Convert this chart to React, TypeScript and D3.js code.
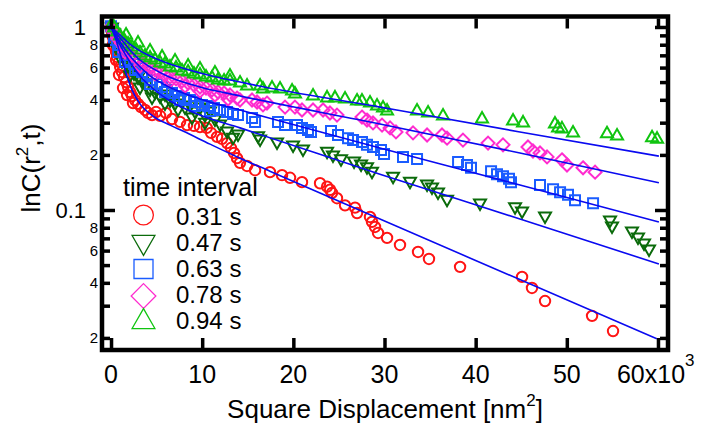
import React, { useEffect, useRef } from "react";
import * as d3 from "d3";

// x in 10^3 nm^2, y = C(r^2,t)
const pts031 = [
  [0.0, 1.0], [0.1, 0.939], [0.2, 0.882], [0.3, 0.828], [0.4, 0.777], [0.55, 0.73], [0.66, 0.686],
  [0.88, 0.644], [1.0, 0.605], [1.2, 0.568], [1.43, 0.533], [1.65, 0.5], [1.87, 0.47], [2.1, 0.441],
  [2.3, 0.42], [2.63, 0.399], [2.96, 0.38], [3.29, 0.365], [3.73, 0.352], [4.06, 0.339], [4.5, 0.33],
  [4.94, 0.343], [5.38, 0.327], [6.03, 0.339], [6.69, 0.314], [7.57, 0.303], [8.34, 0.291], [9.1, 0.288],
  [9.76, 0.284], [10.5, 0.281], [10.97, 0.264], [11.63, 0.251], [12.18, 0.245], [12.73, 0.232],
  [13.16, 0.218], [13.49, 0.205], [13.82, 0.192], [14.15, 0.181], [14.92, 0.174], [15.8, 0.165],
  [0.2, 0.797], [0.55, 0.66], [0.88, 0.547], [1.32, 0.464], [1.76, 0.425], [2.41, 0.384],
  [17.44, 0.161], [18.76, 0.155], [19.64, 0.15], [20.95, 0.142], [22.93, 0.14], [23.7, 0.134],
  [24.03, 0.129], [24.24, 0.124], [24.79, 0.116], [25.67, 0.106], [26.77, 0.103], [26.99, 0.0963],
  [28.41, 0.0916], [28.63, 0.0861], [28.96, 0.0808], [29.29, 0.0749], [30.28, 0.0704], [31.7, 0.0644],
  [33.68, 0.059], [34.88, 0.054], [38.29, 0.0489], [45.09, 0.0431], [46.18, 0.0375], [47.61, 0.0318],
  [52.77, 0.0264], [55.07, 0.0218],
];

const pts047 = [
  [0.1, 0.987], [0.33, 0.916], [0.55, 0.849], [0.77, 0.787], [0.99, 0.739], [1.21, 0.695], [1.54, 0.652],
  [1.87, 0.612], [2.19, 0.582], [2.52, 0.554], [2.96, 0.526], [3.4, 0.5], [3.84, 0.476], [4.28, 0.453],
  [4.83, 0.436], [5.38, 0.415], [5.92, 0.425], [6.47, 0.394], [7.02, 0.38], [7.57, 0.399], [8.12, 0.361],
  [8.67, 0.37], [9.21, 0.343], [9.76, 0.361], [10.3, 0.327], [10.86, 0.343], [11.4, 0.31], [11.96, 0.291],
  [12.73, 0.267], [13.38, 0.247], [13.93, 0.257],
  [0.55, 0.768], [1.21, 0.644], [2.08, 0.54], [3.18, 0.464], [4.5, 0.409], [5.92, 0.38], [7.35, 0.352],
  [8.89, 0.318], [10.31, 0.298],
  [16.13, 0.251], [16.35, 0.241], [18.21, 0.232], [19.97, 0.224], [21.06, 0.213], [23.7, 0.207],
  [24.35, 0.197], [25.23, 0.188], [26.66, 0.183], [27.43, 0.176], [28.08, 0.17], [28.63, 0.161],
  [30.94, 0.151], [32.8, 0.142], [34.67, 0.137], [35.21, 0.132], [35.87, 0.124], [36.86, 0.113],
  [40.48, 0.108], [44.32, 0.103], [45.09, 0.0975], [47.61, 0.0916], [54.74, 0.0871], [54.96, 0.0808],
  [57.15, 0.0759], [57.81, 0.0704], [58.47, 0.0652], [59.02, 0.0605],
];

const pts063 = [
  [0.0, 1.01], [0.22, 0.963], [0.44, 0.904], [0.66, 0.849], [0.99, 0.797], [1.32, 0.749], [1.65, 0.703],
  [2.08, 0.66], [2.52, 0.628], [2.96, 0.597], [3.4, 0.568], [3.95, 0.54], [4.5, 0.513], [5.05, 0.488],
  [5.6, 0.47], [6.14, 0.453], [6.69, 0.436], [7.35, 0.42], [8.01, 0.409], [8.67, 0.399], [9.32, 0.389],
  [9.98, 0.375], [10.64, 0.37], [11.3, 0.361], [11.96, 0.352], [12.73, 0.343], [13.38, 0.335], [13.93, 0.33],
  [0.33, 0.849], [0.77, 0.73], [1.54, 0.644], [2.63, 0.582], [4.28, 0.488], [5.92, 0.441], [7.57, 0.399],
  [9.21, 0.37], [10.86, 0.348],
  [15.47, 0.318], [15.8, 0.303], [18.32, 0.303], [19.09, 0.291], [20.4, 0.291], [20.95, 0.281],
  [21.61, 0.274], [21.94, 0.267], [24.13, 0.27], [24.9, 0.257], [26.0, 0.247], [26.55, 0.241],
  [27.53, 0.235], [28.08, 0.227], [28.74, 0.221], [29.62, 0.213], [29.95, 0.202], [32.03, 0.195],
  [33.57, 0.19], [38.07, 0.183], [39.05, 0.176], [39.49, 0.17], [41.69, 0.163], [42.34, 0.157],
  [43.0, 0.153], [43.66, 0.148], [43.88, 0.142], [47.06, 0.137], [48.49, 0.13], [49.26, 0.125],
  [50.13, 0.121], [50.9, 0.113], [52.88, 0.109],
];

const pts078 = [
  [0.0, 1.0], [0.22, 0.951], [0.44, 0.904], [0.77, 0.86], [1.1, 0.818], [1.43, 0.777], [1.87, 0.739],
  [2.3, 0.703], [2.74, 0.677], [3.18, 0.652], [3.73, 0.628], [4.28, 0.605], [4.83, 0.582], [5.38, 0.568],
  [5.92, 0.547], [6.47, 0.533], [7.13, 0.52], [7.79, 0.507], [8.45, 0.494], [9.1, 0.482], [9.76, 0.47],
  [10.42, 0.464], [11.08, 0.453], [11.74, 0.441], [12.4, 0.436], [13.05, 0.425], [13.82, 0.409],
  [1.54, 0.73], [3.18, 0.612], [4.83, 0.554], [6.47, 0.507], [8.12, 0.476], [9.76, 0.447], [11.4, 0.425],
  [12.84, 0.404],
  [14.15, 0.399], [15.47, 0.399], [16.02, 0.389], [16.67, 0.375], [17.11, 0.384], [19.09, 0.365],
  [20.18, 0.365], [20.95, 0.352], [22.16, 0.352], [23.26, 0.352], [24.02, 0.339], [24.79, 0.33],
  [27.53, 0.322], [28.08, 0.31], [28.74, 0.299], [29.73, 0.291], [30.61, 0.281], [31.26, 0.267],
  [33.13, 0.264], [34.67, 0.257], [36.31, 0.257], [36.86, 0.247], [38.61, 0.241], [41.36, 0.232],
  [43.0, 0.227], [45.74, 0.221], [46.29, 0.21], [47.06, 0.205], [47.83, 0.195], [49.47, 0.188],
  [50.02, 0.176], [51.78, 0.17], [53.1, 0.161],
];

const pts094 = [
  [0.1, 1.05], [0.33, 1.0], [0.66, 0.951], [0.99, 0.904], [1.43, 0.86], [1.87, 0.818], [2.3, 0.787],
  [2.74, 0.758], [3.18, 0.73], [3.73, 0.703], [4.28, 0.686], [4.83, 0.668], [5.38, 0.644], [5.92, 0.636],
  [6.47, 0.612], [7.13, 0.605], [7.79, 0.582], [8.45, 0.575], [9.1, 0.561], [9.76, 0.554], [10.42, 0.54],
  [11.08, 0.533], [11.74, 0.52], [12.4, 0.513], [13.05, 0.513],
  [1.65, 0.916], [2.96, 0.828], [4.28, 0.749], [5.6, 0.694], [7.02, 0.66], [8.45, 0.62], [9.76, 0.597],
  [11.4, 0.568], [13.05, 0.547],
  [14.15, 0.5], [14.92, 0.482], [16.35, 0.482], [16.67, 0.464], [17.66, 0.47], [18.54, 0.464],
  [19.86, 0.453], [20.18, 0.436], [22.16, 0.425], [23.7, 0.415], [24.57, 0.415], [25.67, 0.409],
  [26.99, 0.399], [27.53, 0.399], [28.41, 0.389], [29.18, 0.375], [29.84, 0.365], [30.28, 0.352],
  [33.57, 0.352], [34.78, 0.343], [36.42, 0.33], [40.7, 0.318], [44.1, 0.31], [45.2, 0.303],
  [48.7, 0.299], [49.04, 0.284], [49.47, 0.281], [50.68, 0.267], [54.41, 0.264], [55.51, 0.257],
  [59.35, 0.251], [59.9, 0.247],
];

// fitted curves
const fit031 = [
  [0, 1.0], [0.55, 0.849], [1.21, 0.66], [1.75, 0.54], [2.3, 0.453], [3.18, 0.38], [4.61, 0.326],
  [6.47, 0.291], [7.89, 0.27], [10.86, 0.229], [14.14, 0.192], [17.43, 0.163], [39.36, 0.0547], [59.87, 0.0198],
];
const fit047 = [
  [0, 1.0], [0.99, 0.797], [2.08, 0.644], [3.18, 0.54], [4.28, 0.476], [6.14, 0.404], [9.76, 0.33],
  [14.15, 0.281], [29.5, 0.157], [44.86, 0.0893], [60.1, 0.0507],
];
const fit063 = [
  [0, 1.0], [0.99, 0.828], [2.08, 0.694], [3.18, 0.605], [4.28, 0.54], [6.14, 0.476], [9.76, 0.404],
  [14.15, 0.352], [29.5, 0.218], [44.86, 0.137], [60.1, 0.086],
];
const fit078 = [
  [0, 1.0], [0.99, 0.871], [2.08, 0.749], [3.18, 0.66], [4.28, 0.605], [6.14, 0.54], [9.76, 0.47],
  [14.15, 0.42], [29.5, 0.295], [44.86, 0.205], [60.1, 0.141],
];
const fit094 = [
  [0, 1.0], [0.99, 0.904], [2.08, 0.807], [3.18, 0.74], [4.28, 0.694], [6.14, 0.636], [9.76, 0.561],
  [14.15, 0.5], [29.5, 0.365], [44.86, 0.267], [60.1, 0.197],
];

const legendLabels = ["0.31 s", "0.47 s", "0.63 s", "0.78 s", "0.94 s"];
const xTicks = [0, 10, 20, 30, 40, 50, 60];
const yMajor = [1, 0.1];
const yMinor = [0.02, 0.03, 0.04, 0.05, 0.06, 0.07, 0.08, 0.09, 0.2, 0.3, 0.4, 0.5, 0.6, 0.7, 0.8, 0.9];
const yMinorLabels = [0.8, 0.6, 0.4, 0.2, 0.08, 0.06, 0.04, 0.02];

const W = 702;
const H = 425;
const L = 102, R = 668, T = 16.5, B = 350;
const FONT = "'Liberation Sans', Arial, Helvetica, sans-serif";

function shapePath(shape: string, s: number) {
  switch (shape) {
    case "triDown":
      return `M${-6 * s},${-4.5 * s}L${6 * s},${-4.5 * s}L0,${6 * s}Z`;
    case "triUp":
      return `M0,${-6 * s}L${6 * s},${4.5 * s}L${-6 * s},${4.5 * s}Z`;
    case "square":
      return `M${-5 * s},${-5 * s}h${10 * s}v${10 * s}h${-10 * s}Z`;
    case "diamond":
      return `M0,${-6.5 * s}L${6.5 * s},0L0,${6.5 * s}L${-6.5 * s},0Z`;
    default:
      return d3.arc()({ innerRadius: 0, outerRadius: 5.2 * s, startAngle: 0, endAngle: 2 * Math.PI }) as string;
  }
}

export default function App() {
  const svgRef = useRef<SVGSVGElement>(null);

  useEffect(() => {
    const svg = d3.select(svgRef.current);
    svg.selectAll("*").remove();

    const x = d3.scaleLinear().domain([-0.99, 61.1]).range([L, R]);
    const y = d3.scaleLog().domain([0.01718, 1.141]).range([B, T]);

    const series = [
      { pts: pts031, fit: fit031, color: "#ff1414", shape: "circle" },
      { pts: pts047, fit: fit047, color: "#0b6b0b", shape: "triDown" },
      { pts: pts063, fit: fit063, color: "#1a5cff", shape: "square" },
      { pts: pts078, fit: fit078, color: "#ff2ccf", shape: "diamond" },
      { pts: pts094, fit: fit094, color: "#10c410", shape: "triUp" },
    ];

    svg.append("rect").attr("width", W).attr("height", H).attr("fill", "#fff");

    svg.append("defs").append("clipPath").attr("id", "plotclip")
      .append("rect").attr("x", L + 2).attr("y", T + 2).attr("width", R - L - 4).attr("height", B - T - 4);

    const plot = svg.append("g").attr("clip-path", "url(#plotclip)");

    series.forEach((s) => {
      plot.append("g")
        .selectAll("path")
        .data(s.pts)
        .join("path")
        .attr("transform", (d) => `translate(${x(d[0])},${y(d[1])})`)
        .attr("d", shapePath(s.shape, 1))
        .attr("fill", "none")
        .attr("stroke", s.color)
        .attr("stroke-width", 2);
    });

    const line = d3.line<number[]>()
      .x((d) => x(d[0]))
      .y((d) => y(d[1]))
      .curve(d3.curveMonotoneX);

    series.forEach((s) => {
      plot.append("path")
        .datum(s.fit)
        .attr("fill", "none")
        .attr("stroke", "#0a0af0")
        .attr("stroke-width", 1.6)
        .attr("d", line);
    });

    // ticks
    const tickGroup = (axis: any, tx: number, ty: number) => {
      const g = svg.append("g").attr("transform", `translate(${tx},${ty})`).call(axis);
      g.select(".domain").remove();
      g.selectAll("text").remove();
      g.selectAll("line").attr("stroke", "#000").attr("stroke-width", 3.5);
      return g;
    };
    tickGroup(d3.axisBottom(x).tickValues(xTicks).tickSize(-10), 0, B - 2);
    tickGroup(d3.axisTop(x).tickValues(xTicks).tickSize(-10), 0, T + 2);
    tickGroup(d3.axisLeft(y).tickValues(yMinor).tickSize(-6), L + 2, 0);
    tickGroup(d3.axisLeft(y).tickValues(yMajor).tickSize(-11), L + 2, 0);
    tickGroup(d3.axisRight(y).tickValues(yMinor).tickSize(-6), R - 2, 0);
    tickGroup(d3.axisRight(y).tickValues(yMajor).tickSize(-11), R - 2, 0);

    // frame
    svg.append("rect")
      .attr("x", L).attr("y", T).attr("width", R - L).attr("height", B - T)
      .attr("fill", "none").attr("stroke", "#000").attr("stroke-width", 4.5);

    const text = svg.append("g").attr("font-family", FONT).attr("fill", "#000");

    // x tick labels
    xTicks.forEach((v) => {
      if (v === 60) {
        const t = text.append("text").attr("x", x(v) - 41).attr("y", 383).attr("font-size", 25);
        t.append("tspan").text("60x10");
        t.append("tspan").attr("dy", -17).attr("font-size", 17).text("3");
      } else {
        text.append("text").attr("x", x(v)).attr("y", 383).attr("text-anchor", "middle")
          .attr("font-size", 25).text(String(v));
      }
    });

    // y tick labels
    yMajor.forEach((v) => {
      text.append("text").attr("x", 86).attr("y", y(v)).attr("dy", "0.36em")
        .attr("text-anchor", "end").attr("font-size", 22).text(v === 1 ? "1" : "0.1");
    });
    yMinorLabels.forEach((v) => {
      const digit = Math.round(v / Math.pow(10, Math.floor(Math.log10(v) + 1e-9)));
      text.append("text").attr("x", 98).attr("y", y(v)).attr("dy", "0.36em")
        .attr("text-anchor", "end").attr("font-size", 15).text(String(digit));
    });

    // axis titles
    const xt = text.append("text").attr("x", 385).attr("y", 418).attr("text-anchor", "middle").attr("font-size", 26);
    xt.append("tspan").text("Square Displacement [nm");
    xt.append("tspan").attr("dy", -12).attr("font-size", 17).text("2");
    xt.append("tspan").attr("dy", 12).text("]");

    const yt = text.append("text").attr("transform", "translate(40,168) rotate(-90)")
      .attr("text-anchor", "middle").attr("font-size", 26);
    yt.append("tspan").text("lnC(r");
    yt.append("tspan").attr("dy", -12).attr("font-size", 17).text("2");
    yt.append("tspan").attr("dy", 12).text(",t)");

    // legend
    text.append("text").attr("x", 123).attr("y", 196).attr("font-size", 25).text("time interval");
    const legY = [215, 244, 269, 296, 320];
    series.forEach((s, i) => {
      svg.append("path")
        .attr("transform", `translate(143.5,${legY[i]})`)
        .attr("d", shapePath(s.shape, 1.9))
        .attr("fill", "none")
        .attr("stroke", s.color)
        .attr("stroke-width", 1.3);
      text.append("text").attr("x", 176).attr("y", 225 + i * 26).attr("font-size", 24).text(legendLabels[i]);
    });
  }, []);

  return (
    <svg
      ref={svgRef}
      width={W}
      height={H}
      style={{ position: "absolute", left: 0, top: 0 }}
    />
  );
}
